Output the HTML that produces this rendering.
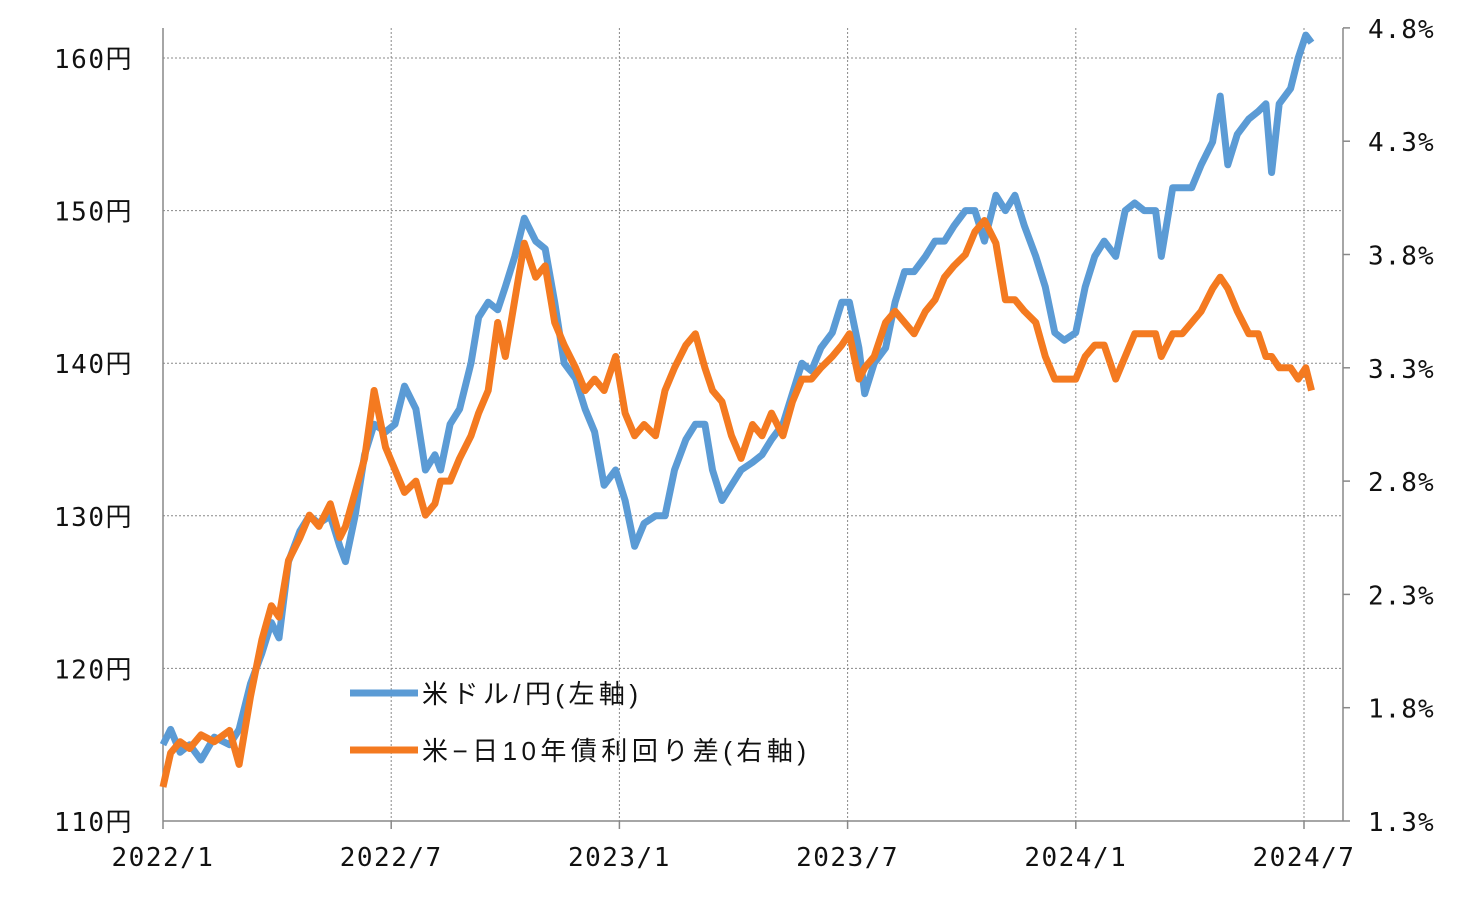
<!DOCTYPE html>
<html><head><meta charset="utf-8">
<style>
html,body{margin:0;padding:0;background:#fff;}
svg text{font-family:"DejaVu Sans Mono","Liberation Mono","Noto Sans CJK JP",monospace;fill:#111;}
svg text.lg{font-family:"Liberation Sans","Noto Sans CJK JP",sans-serif;}
</style></head>
<body>
<svg id="chart" width="1464" height="896" viewBox="0 0 1464 896" xmlns="http://www.w3.org/2000/svg">
<rect width="1464" height="896" fill="#fff"/>
<g id="grid"></g>
<g id="axes"></g>
<g id="series"></g>
<g id="legend">
  <line x1="350" y1="693" x2="418" y2="693" stroke="#5B9BD5" stroke-width="7"/>
  <text class="lg" x="422" y="703" font-size="26" textLength="216" lengthAdjust="spacing">米ドル/円(左軸)</text>
  <line x1="350" y1="750" x2="418" y2="750" stroke="#F47A20" stroke-width="7"/>
  <text class="lg" x="422" y="760" font-size="26" textLength="384" lengthAdjust="spacing">米−日10年債利回り差(右軸)</text>
</g>
</svg>
<script>
const xTickLabels = ["2022/1","2022/7","2023/1","2023/7","2024/1","2024/7"];
const leftTicks = [110,120,130,140,150,160];
const rightTicks = [1.3,1.8,2.3,2.8,3.3,3.8,4.3,4.8];
// months since 2022/1
const months = [0,0.2,0.45,0.7,1.0,1.35,1.75,2.0,2.3,2.6,2.85,3.05,3.3,3.6,3.85,4.1,4.4,4.65,4.8,5.05,5.3,5.55,5.85,6.1,6.35,6.65,6.9,7.15,7.3,7.55,7.8,8.1,8.3,8.55,8.8,9.0,9.25,9.5,9.8,10.05,10.3,10.55,10.85,11.1,11.35,11.6,11.9,12.15,12.4,12.65,12.95,13.2,13.45,13.75,14.0,14.25,14.45,14.7,14.95,15.2,15.5,15.75,16.0,16.3,16.55,16.8,17.05,17.3,17.6,17.85,18.05,18.3,18.45,18.7,19.0,19.25,19.5,19.75,20.05,20.3,20.55,20.8,21.1,21.35,21.6,21.9,22.15,22.4,22.65,22.95,23.2,23.45,23.7,24.0,24.25,24.5,24.75,25.05,25.3,25.55,25.8,26.1,26.25,26.55,26.8,27.05,27.3,27.6,27.8,28.0,28.25,28.55,28.8,29.0,29.15,29.35,29.65,29.85,30.05,30.2];
const usdjpy = [115,116,114.5,115,114,115.5,115,116,119,121,123,122,127,129,130,129.5,130,128,127,130,134,136,135.5,136,138.5,137,133,134,133,136,137,140,143,144,143.5,145,147,149.5,148,147.5,144,140,139,137,135.5,132,133,131,128,129.5,130,130,133,135,136,136,133,131,132,133,133.5,134,135,136,138,140,139.5,141,142,144,144,141,138,140,141,144,146,146,147,148,148,149,150,150,148,151,150,151,149,147,145,142,141.5,142,145,147,148,147,150,150.5,150,150,147,151.5,151.5,151.5,153,154.5,157.5,153,155,156,156.5,157,152.5,157,158,160,161.5,161];
const spread = [1.45,1.6,1.65,1.62,1.68,1.65,1.7,1.55,1.85,2.1,2.25,2.2,2.45,2.55,2.65,2.6,2.7,2.55,2.6,2.75,2.9,3.2,2.95,2.85,2.75,2.8,2.65,2.7,2.8,2.8,2.9,3.0,3.1,3.2,3.5,3.35,3.6,3.85,3.7,3.75,3.5,3.4,3.3,3.2,3.25,3.2,3.35,3.1,3.0,3.05,3.0,3.2,3.3,3.4,3.45,3.3,3.2,3.15,3.0,2.9,3.05,3.0,3.1,3.0,3.15,3.25,3.25,3.3,3.35,3.4,3.45,3.25,3.3,3.35,3.5,3.55,3.5,3.45,3.55,3.6,3.7,3.75,3.8,3.9,3.95,3.85,3.6,3.6,3.55,3.5,3.35,3.25,3.25,3.25,3.35,3.4,3.4,3.25,3.35,3.45,3.45,3.45,3.35,3.45,3.45,3.5,3.55,3.65,3.7,3.65,3.55,3.45,3.45,3.35,3.35,3.3,3.3,3.25,3.3,3.2];

const NS="http://www.w3.org/2000/svg";
const L=163,R=1343,T=28,B=821;
const xTickPos=i=>163+i*228.2;
const xM=m=>163+m*38.03;
const yL=v=>821-(v-110)*15.26;
const yR=v=>821-(v-1.3)*226.6;
function mk(tag,attrs,parent){const e=document.createElementNS(NS,tag);for(const k in attrs)e.setAttribute(k,attrs[k]);parent.appendChild(e);return e;}
const grid=document.getElementById('grid'),axes=document.getElementById('axes'),series=document.getElementById('series');

leftTicks.forEach(v=>{
  if(v>110){const g=mk('line',{x1:L,x2:R,y1:yL(v),y2:yL(v),stroke:'#888','stroke-width':1,'stroke-dasharray':'2,2'},grid);
  
  }
  const t=mk('text',{x:133,y:yL(v)+10,'font-size':26,'text-anchor':'end','letter-spacing':'1.5'},axes);
  t.textContent=v+'円';
  
  
});
rightTicks.forEach(v=>{
  const t=mk('text',{x:1368,y:yR(v)+10,'font-size':26,'letter-spacing':'1'},axes);
  t.textContent=v.toFixed(1)+'%';
  
  
  const k=mk('line',{x1:R,x2:R+7,y1:yR(v),y2:yR(v),stroke:'#888','stroke-width':1.5},axes);
  
  
});
xTickLabels.forEach((s,i)=>{
  const x=xTickPos(i);
  if(i>0){const g=mk('line',{x1:x,x2:x,y1:T,y2:B,stroke:'#888','stroke-width':1,'stroke-dasharray':'2,2'},grid);
  
  }
  const k=mk('line',{x1:x,x2:x,y1:B,y2:B+8,stroke:'#888','stroke-width':1.5},axes);
  
  
  const t=mk('text',{x:x,y:866,'font-size':26,'text-anchor':'middle','letter-spacing':'1.5'},axes);
  t.textContent=s;
  
  
});
const la=mk('line',{x1:L,x2:L,y1:T,y2:B,stroke:'#888','stroke-width':1.5},axes);


const ra=mk('line',{x1:R,x2:R,y1:T,y2:B,stroke:'#888','stroke-width':1.5},axes);


const ba=mk('line',{x1:L,x2:R,y1:B,y2:B,stroke:'#888','stroke-width':1.5},axes);



const p1=mk('polyline',{points:usdjpy.map((v,i)=>xM(months[i]).toFixed(1)+','+yL(v).toFixed(1)).join(' '),fill:'none',stroke:'#5B9BD5','stroke-width':7,'stroke-linejoin':'round'},series);


const p2=mk('polyline',{points:spread.map((v,i)=>xM(months[i]).toFixed(1)+','+yR(v).toFixed(1)).join(' '),fill:'none',stroke:'#F47A20','stroke-width':7,'stroke-linejoin':'round'},series);


</script>
</body></html>
